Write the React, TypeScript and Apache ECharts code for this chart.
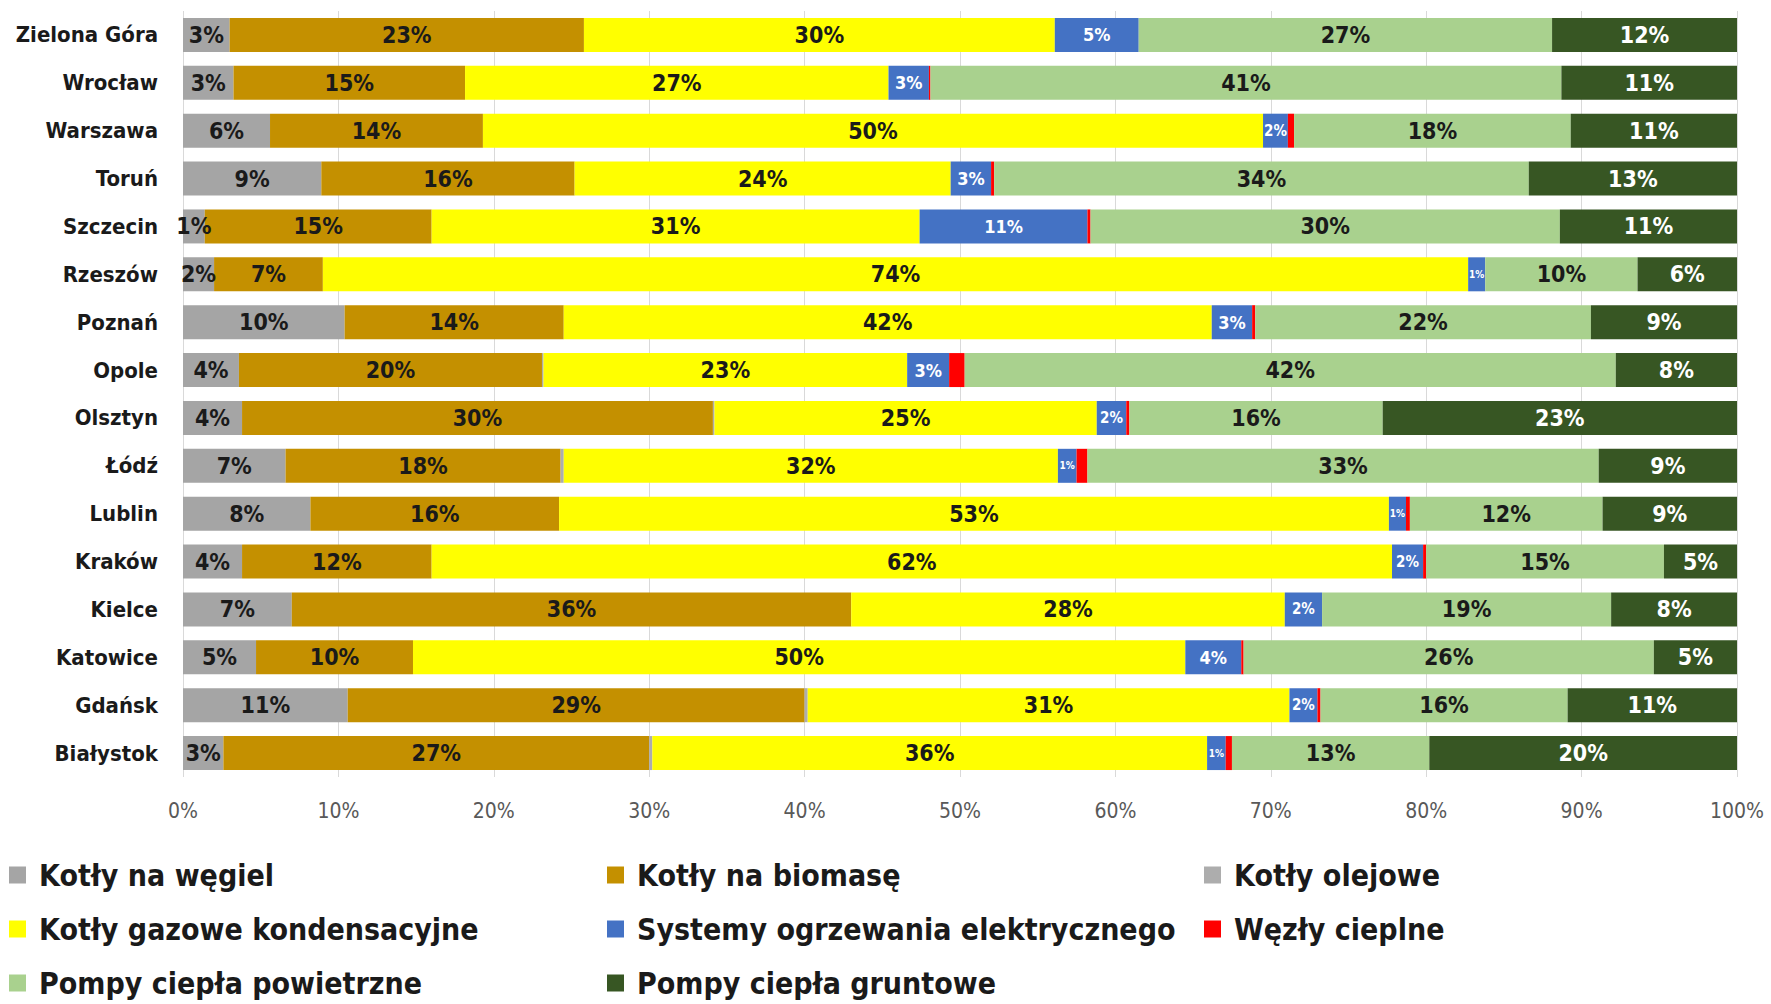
import React, { useEffect, useRef } from "react";
import * as echarts from "echarts";

const categories = [
  "Zielona Góra", "Wrocław", "Warszawa", "Toruń", "Szczecin", "Rzeszów", "Poznań", "Opole",
  "Olsztyn", "Łódź", "Lublin", "Kraków", "Kielce", "Katowice", "Gdańsk", "Białystok",
];

const xTicks = [0, 10, 20, 30, 40, 50, 60, 70, 80, 90, 100];

const coal = [3.0, 3.25, 5.6, 8.9, 1.4, 2.0, 10.4, 3.6, 3.8, 6.6, 8.2, 3.8, 7.0, 4.7, 10.6, 2.6];
const biomass = [22.8, 14.9, 13.7, 16.3, 14.6, 7.0, 14.1, 19.5, 30.3, 17.7, 16.0, 12.2, 36.0, 10.1, 29.4, 27.4];
const oil = [0, 0, 0, 0, 0, 0, 0, 0.1, 0.1, 0.2, 0, 0, 0, 0, 0.2, 0.2];
const gas = [30.3, 27.25, 50.2, 24.2, 31.4, 73.7, 41.7, 23.4, 24.6, 31.8, 53.4, 61.8, 27.9, 49.7, 31.0, 35.7];
const electric = [5.4, 2.6, 1.6, 2.6, 10.8, 1.1, 2.6, 2.7, 1.9, 1.2, 1.1, 2.0, 2.4, 3.6, 1.8, 1.2];
const heatNodes = [0, 0.1, 0.4, 0.2, 0.2, 0, 0.2, 1.0, 0.2, 0.7, 0.25, 0.2, 0, 0.15, 0.2, 0.4];
const airHP = [26.6, 40.6, 17.8, 34.4, 30.2, 9.8, 21.6, 41.9, 16.3, 32.9, 12.4, 15.3, 18.6, 26.4, 15.9, 12.7];
const groundHP = [11.9, 11.3, 10.7, 13.4, 11.4, 6.4, 9.4, 7.8, 22.8, 8.9, 8.65, 4.7, 8.1, 5.35, 10.9, 19.8];

const seriesNames = [
  "Kotły na węgiel",
  "Kotły na biomasę",
  "Kotły olejowe",
  "Kotły gazowe kondensacyjne",
  "Systemy ogrzewania elektrycznego",
  "Węzły cieplne",
  "Pompy ciepła powietrzne",
  "Pompy ciepła gruntowe",
];
const seriesData = [coal, biomass, oil, gas, electric, heatNodes, airHP, groundHP];
const colors = ["#A5A5A5", "#C49000", "#ADADAD", "#FFFF00", "#4472C4", "#FF0000", "#A9D18E", "#375623"];
const labelColors = ["#1a1a1a", "#1a1a1a", "#1a1a1a", "#1a1a1a", "#ffffff", "#ffffff", "#1a1a1a", "#ffffff"];
const showLabels = [true, true, false, true, true, false, true, true];

// legend grid: [column, row] of each series
const legendCol = [0, 1, 2, 0, 1, 2, 0, 1];
const legendRow = [0, 0, 0, 1, 1, 1, 2, 2];
const legendColX = [9, 607, 1204];
const legendRowY = [875, 929, 983];

const FONT = "'Liberation Sans Narrow', 'DejaVu Sans Condensed', 'Liberation Sans', sans-serif";

export default function App() {
  const ref = useRef<HTMLDivElement>(null);

  useEffect(() => {
    if (!ref.current) return;
    const chart = echarts.init(ref.current, null, { renderer: "svg" });

    const series = seriesNames.map((name, i) => ({
      name,
      type: "bar",
      stack: "total",
      barCategoryGap: "29%",
      itemStyle: { color: colors[i] },
      label: {
        show: showLabels[i],
        position: "inside",
        color: labelColors[i],
        fontSize: 23,
        fontWeight: "bold",
        fontFamily: FONT,
        formatter: (p: any) => (p.value >= 0.5 ? Math.round(p.value) + "%" : ""),
      },
      data: seriesData[i].map((v) =>
        i === 4
          ? { value: v, label: { fontSize: v >= 2.5 ? 18 : v >= 1.5 ? 15 : 10 } }
          : v
      ),
    }));

    const legends = seriesNames.map((name, i) => ({
      orient: "horizontal",
      left: legendColX[legendCol[i]],
      top: legendRowY[legendRow[i]] - 16,
      padding: 0,
      itemWidth: 17,
      itemHeight: 17,
      icon: "rect",
      data: [name],
      textStyle: {
        fontSize: 30,
        fontWeight: "bold",
        color: "#1a1a1a",
        fontFamily: FONT,
        lineHeight: 32,
        padding: [0, 0, 0, 8],
      },
    }));

    chart.setOption({
      animation: false,
      backgroundColor: "#ffffff",
      grid: { left: 183, right: 34, top: 11, bottom: 227, containLabel: false },
      xAxis: {
        type: "value",
        min: xTicks[0],
        max: xTicks[xTicks.length - 1],
        interval: 10,
        axisLine: { show: false },
        axisTick: { show: false },
        splitLine: { show: true, lineStyle: { color: "#d9d9d9", width: 1 } },
        axisLabel: {
          margin: 23,
          fontSize: 21,
          color: "#595959",
          fontFamily: FONT,
          formatter: (v: number) => v + "%",
        },
      },
      yAxis: {
        type: "category",
        data: categories,
        inverse: true,
        axisLine: { show: false },
        axisTick: { show: false },
        axisLabel: {
          margin: 25,
          fontSize: 22,
          fontWeight: "bold",
          color: "#1a1a1a",
          fontFamily: FONT,
        },
      },
      legend: legends,
      series,
    });

    return () => chart.dispose();
  }, []);

  return (
    <div
      ref={ref}
      style={{ position: "fixed", left: 0, top: 0, width: 1771, height: 1004, background: "#fff" }}
    />
  );
}
